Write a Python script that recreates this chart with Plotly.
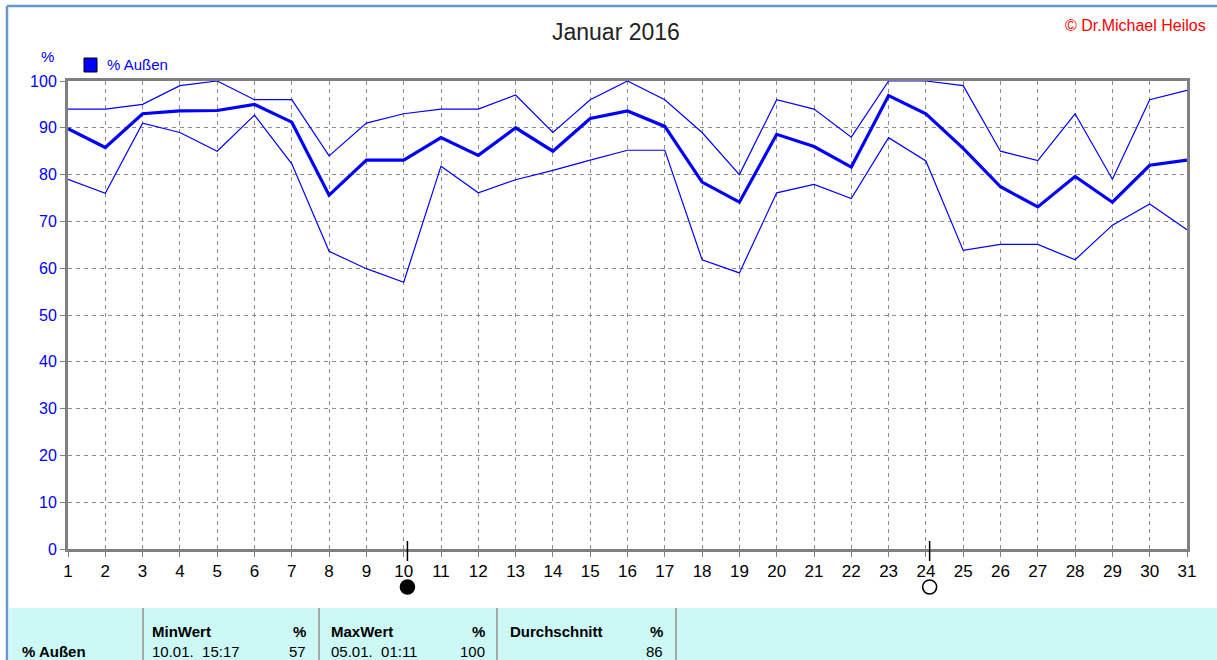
import plotly.graph_objects as go

days = list(range(1, 32))
hum_max = [94, 94, 95, 99, 100, 96, 96, 84, 91, 93, 94, 94, 97, 89, 96, 100, 96, 89, 80, 96, 94,
           88, 100, 100, 99, 85, 83, 93, 79, 96, 98]
hum_avg = [89.8, 85.8, 93, 93.6, 93.7, 95, 91.2, 75.6, 83.1, 83.1, 87.9, 84.1, 90, 85, 92, 93.6, 90.3,
           78.4, 74.1, 88.6, 86, 81.6, 96.9, 93, 85.6, 77.4, 73.1, 79.6, 74.1, 82, 83.1]
hum_min = [79, 76, 91, 89, 85, 92.7, 82.3, 63.6, 59.9, 57, 81.8, 76.1, 78.9, 80.9, 83.1, 85.2, 85.2,
           61.8, 59, 76.1, 77.9, 74.9, 87.9, 82.9, 63.8, 65.1, 65.1, 61.8, 69.2, 73.7, 68.2]
y_ticks = [0, 10, 20, 30, 40, 50, 60, 70, 80, 90, 100]
new_moon_day = 10.1
full_moon_day = 24.1

title_text = "Januar 2016"
series_name = "% Außen"
table_header = ["MinWert", "%", "MaxWert", "%", "Durchschnitt", "%"]
table_row = ["10.01.  15:17", "57", "05.01.  01:11", "100", "", "86"]

# pixel layout helpers
L, R, T, B = 68, 1187, 81, 549
W, H = R - L, B - T
def px(x):
    return (x - L) / W
def py(y):
    return (B - y) / H

BLUE = "#0000FF"
GRID = "#8c8c8c"
FONT = "Liberation Sans, Arial, sans-serif"
NARROW = "Liberation Sans Narrow, Arial Narrow, Liberation Sans, Arial, sans-serif"

fig = go.Figure()
for vals, w in [(hum_max, 1.2), (hum_min, 1.2), (hum_avg, 3.2)]:
    fig.add_trace(go.Scatter(x=days, y=vals, mode="lines", line=dict(color=BLUE, width=w),
                             showlegend=False, hoverinfo="skip"))

shapes = []
# moon phase tick lines and symbols
for d, fill in [(new_moon_day, "black"), (full_moon_day, "white")]:
    shapes.append(dict(type="line", xref="x", yref="paper", x0=d, x1=d, y0=py(541), y1=py(561),
                       line=dict(color="black", width=1.5)))
    shapes.append(dict(type="circle", xref="x", yref="paper", xsizemode="pixel", ysizemode="pixel",
                       xanchor=d, yanchor=py(587), x0=-7, x1=7, y0=-7, y1=7,
                       fillcolor=fill, line=dict(color="black", width=1.6)))
# outer frame
shapes.append(dict(type="line", xref="paper", yref="paper", x0=px(7), x1=px(1217), y0=py(6), y1=py(6),
                   line=dict(color="#6b96c9", width=2.5), layer="above"))
shapes.append(dict(type="line", xref="paper", yref="paper", x0=px(7), x1=px(7), y0=py(6), y1=py(660),
                   line=dict(color="#6b96c9", width=2.5), layer="above"))
# table background
shapes.append(dict(type="rect", xref="paper", yref="paper", x0=px(9), x1=px(1217), y0=py(608), y1=py(661),
                   fillcolor="#ccf8f6", line=dict(width=0), layer="below"))
for sx in [143, 319, 497, 676]:
    shapes.append(dict(type="line", xref="paper", yref="paper", x0=px(sx), x1=px(sx), y0=py(608), y1=py(661),
                       line=dict(color="#a8a8a8", width=2)))
# legend square
shapes.append(dict(type="rect", xref="paper", yref="paper", x0=px(84), x1=px(97), y0=py(58), y1=py(72),
                   fillcolor=BLUE, line=dict(color="black", width=1)))

ann = []
ann.append(dict(text=title_text, xref="paper", yref="paper", x=px(616), y=py(32), showarrow=False,
                xanchor="center", yanchor="middle", font=dict(family=FONT, size=23, color="#222222")))
ann.append(dict(text="© Dr.Michael Heilos", xref="paper", yref="paper", x=px(1208), y=py(26), showarrow=False,
                xanchor="right", yanchor="middle", font=dict(family=NARROW, size=16, color="#ff0000")))
ann.append(dict(text="%", xref="paper", yref="paper", x=px(47), y=py(57), showarrow=False,
                xanchor="center", yanchor="middle", font=dict(family=FONT, size=15, color=BLUE)))
ann.append(dict(text=series_name, xref="paper", yref="paper", x=px(105), y=py(65), showarrow=False,
                xanchor="left", yanchor="middle", font=dict(family=FONT, size=15, color=BLUE)))
# table
hdr_pos = [(150, "left"), (308, "right"), (329, "left"), (487, "right"), (508, "left"), (665, "right")]
for (xx, anc), txt in zip(hdr_pos, table_header):
    ann.append(dict(text="<b>" + txt + "</b>", xref="paper", yref="paper", x=px(xx), y=py(631), showarrow=False,
                    xanchor=anc, yanchor="middle", font=dict(family=FONT, size=15, color="black")))
for (xx, anc), txt in zip(hdr_pos, table_row):
    if txt:
        ann.append(dict(text=txt.replace(" ", "&nbsp;"), xref="paper", yref="paper", x=px(xx), y=py(651),
                        showarrow=False, xanchor=anc, yanchor="middle",
                        font=dict(family=FONT, size=15, color="black")))
ann.append(dict(text="<b>" + series_name + "</b>", xref="paper", yref="paper", x=px(20), y=py(651),
                showarrow=False, xanchor="left", yanchor="middle", font=dict(family=FONT, size=15, color="black")))

fig.update_layout(
    width=1217, height=660,
    margin=dict(l=L, r=1217 - R, t=T, b=660 - B),
    paper_bgcolor="white", plot_bgcolor="white",
    shapes=shapes, annotations=ann, showlegend=False,
    xaxis=dict(range=[1, 31], tickmode="array", tickvals=days, ticktext=[str(d) for d in days],
               showgrid=True, gridcolor=GRID, griddash="4px,4px", gridwidth=1,
               showline=True, linecolor="#808080", linewidth=3, mirror=True,
               ticks="outside", ticklen=5, tickcolor="#808080", tickwidth=1,
               tickfont=dict(family=NARROW, size=17, color="black"), zeroline=False, fixedrange=True),
    yaxis=dict(range=[0, 100], tickmode="array", tickvals=y_ticks,
               showgrid=True, gridcolor=GRID, griddash="4px,4px", gridwidth=1,
               showline=True, linecolor="#808080", linewidth=3, mirror=True,
               ticks="outside", ticklen=5, tickcolor="#808080", tickwidth=1,
               tickfont=dict(family=FONT, size=16, color=BLUE), zeroline=False, fixedrange=True),
)
fig.write_html("out.html", config={"displayModeBar": False},
               post_script="document.body.style.margin='0';document.body.style.overflow='hidden';")
